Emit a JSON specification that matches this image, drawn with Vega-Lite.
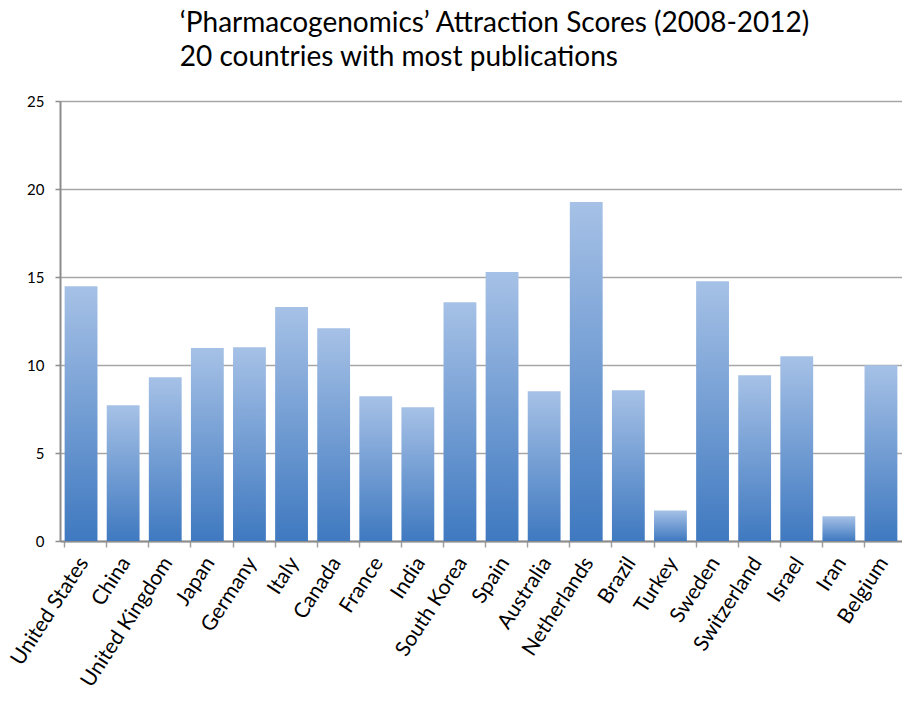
{
  "$schema": "https://vega.github.io/schema/vega-lite/v6.json",
  "autosize": "none",
  "padding": {"left": 60, "top": 101, "right": 0, "bottom": 168},
  "width": 842,
  "height": 440,
  "background": "white",
  "title": {
    "text": "‘Pharmacogenomics’ Attraction Scores (2008-2012)",
    "subtitle": "20 countries with most publications",
    "anchor": "start",
    "dx": 173,
    "offset": 22,
    "font": "Lato",
    "fontSize": 28,
    "fontWeight": "normal",
    "color": "black",
    "subtitleFont": "Lato",
    "subtitleFontSize": 28,
    "subtitleColor": "black",
    "subtitlePadding": 6
  },
  "data": {
    "values": [
      {"country": "United States", "score": 14.48},
      {"country": "China", "score": 7.71},
      {"country": "United Kingdom", "score": 9.31},
      {"country": "Japan", "score": 10.96},
      {"country": "Germany", "score": 11.01},
      {"country": "Italy", "score": 13.29},
      {"country": "Canada", "score": 12.09},
      {"country": "France", "score": 8.23},
      {"country": "India", "score": 7.6},
      {"country": "South Korea", "score": 13.57},
      {"country": "Spain", "score": 15.28},
      {"country": "Australia", "score": 8.51},
      {"country": "Netherlands", "score": 19.26},
      {"country": "Brazil", "score": 8.57},
      {"country": "Turkey", "score": 1.74},
      {"country": "Sweden", "score": 14.76},
      {"country": "Switzerland", "score": 9.42},
      {"country": "Israel", "score": 10.5},
      {"country": "Iran", "score": 1.4},
      {"country": "Belgium", "score": 9.99}
    ]
  },
  "mark": {
    "type": "bar",
    "color": {
      "gradient": "linear",
      "x1": 0, "y1": 0, "x2": 0, "y2": 1,
      "stops": [
        {"offset": 0, "color": "#a6c1e6"},
        {"offset": 1, "color": "#3f79c0"}
      ]
    }
  },
  "encoding": {
    "x": {
      "field": "country",
      "type": "nominal",
      "sort": null,
      "scale": {"paddingInner": 0.22, "paddingOuter": 0.11},
      "axis": {
        "title": null,
        "bandPosition": 0,
        "labelAngle": -57,
        "labelAlign": "right",
        "labelBaseline": "middle",
        "labelFont": "Lato",
        "labelFontSize": 21,
        "labelLimit": 300,
        "labelColor": "black",
        "labelPadding": 12,
        "labelOffset": 3,
        "tickSize": 6,
        "tickColor": "#a0a0a0",
        "tickWidth": 1.5,
        "domainColor": "#8c8c8c",
        "domainWidth": 2,
        "grid": false
      }
    },
    "y": {
      "field": "score",
      "type": "quantitative",
      "scale": {"domain": [0, 25], "nice": false},
      "axis": {
        "title": null,
        "values": [0, 5, 10, 15, 20, 25],
        "grid": true,
        "gridColor": "#a6a6a6",
        "gridWidth": 1.5,
        "domainColor": "#8c8c8c",
        "domainWidth": 2,
        "tickSize": 5,
        "tickColor": "#8c8c8c",
        "tickWidth": 1.5,
        "labelFont": "Lato",
        "labelFontSize": 15,
        "labelColor": "black",
        "labelPadding": 11
      }
    }
  },
  "config": {
    "view": {"stroke": null}
  }
}
